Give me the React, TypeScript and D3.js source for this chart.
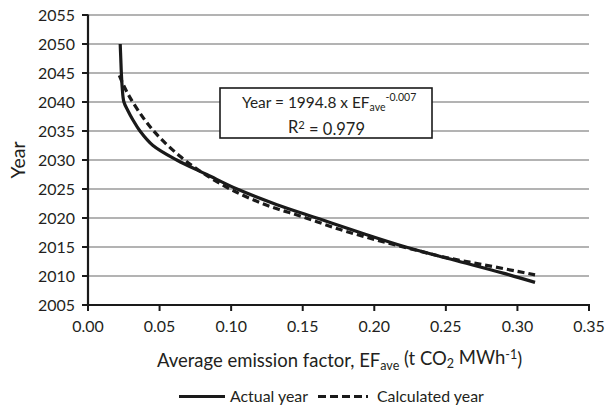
import React, { useMemo } from "react";
import * as d3 from "d3";

// Actual year reached for each average emission factor (t CO2 / MWh)
const actualEF = [0.0225, 0.0229, 0.0233, 0.0239, 0.0251, 0.0279, 0.0314, 0.0363, 0.0454, 0.062, 0.083, 0.105, 0.132, 0.161, 0.19, 0.222, 0.255, 0.29, 0.3123];
const actualYear = [2050.0, 2047.5, 2045.0, 2042.5, 2040.0, 2038.5, 2036.9, 2035.0, 2032.5, 2030.0, 2027.5, 2024.9, 2022.3, 2019.9, 2017.5, 2015.0, 2012.8, 2010.5, 2008.9];

// Year given by the fitted power curve
const calcEF = [0.0219, 0.025, 0.03, 0.04, 0.05, 0.065, 0.08, 0.1, 0.125, 0.15, 0.175, 0.2, 0.225, 0.25, 0.275, 0.3, 0.3123];
const calcYear = [2044.6, 2042.8, 2040.5, 2036.8, 2033.9, 2030.5, 2027.8, 2024.9, 2022.2, 2020.2, 2018.1, 2016.3, 2014.7, 2013.2, 2012.0, 2010.8, 2010.2];

const xTicks = [0, 0.05, 0.1, 0.15, 0.2, 0.25, 0.3, 0.35];
const yTicks = [2005, 2010, 2015, 2020, 2025, 2030, 2035, 2040, 2045, 2050, 2055];

const W = 606;
const H = 410;
const margin = { left: 88, right: 17, top: 15, bottom: 105 };
const FAMILY = "Lato";
const FONT = "Lato, 'Open Sans', sans-serif";
const TEXT = "#231f20";
const SUB = 0.68; // relative size of sub/superscripts

// Width of a string in em units for the chart font
function emWidth(ctx: CanvasRenderingContext2D | null, s: string) {
  if (!ctx) return s.length * 0.5;
  return ctx.measureText(s).width / 100;
}

export default function App() {
  // font sizes chosen so that each label spans the width it should occupy
  const sizes = useMemo(() => {
    const ctx = document.createElement("canvas").getContext("2d");
    if (ctx) ctx.font = `100px ${FAMILY}`;
    const fit = (main: string, subs: string, width: number) =>
      width / (emWidth(ctx, main) + SUB * emWidth(ctx, subs));
    return {
      tick: fit("2055", "", 37),
      yTitle: fit("Year", "", 37),
      xTitle: fit("Average emission factor, EF (t CO MWh)", "ave2-1", 365),
      legend: (fit("Actual year", "", 78) + fit("Calculated year", "", 108)) / 2,
      eq: fit("Year = 1994.8 x EF", "", 128),
      r2: fit("R = 0.979", "2", 77),
    };
  }, []);

  const x = d3.scaleLinear().domain([0, 0.35]).range([margin.left, W - margin.right]);
  const y = d3.scaleLinear().domain([2005, 2055]).range([H - margin.bottom, margin.top]);

  const line = d3
    .line<[number, number]>()
    .x((d) => x(d[0]))
    .y((d) => y(d[1]))
    .curve(d3.curveCatmullRom.alpha(0.5));

  const actualPts = actualEF.map((e, i) => [e, actualYear[i]] as [number, number]);
  const calcPts = calcEF.map((e, i) => [e, calcYear[i]] as [number, number]);

  const x0 = x(0);
  const x1 = x(0.35);
  const yBottom = y(2005);
  const yTop = y(2055);

  return (
    <svg width={W} height={H} style={{ position: "absolute", left: 0, top: 0, background: "#fff" }} fontFamily={FONT}>
      {/* horizontal gridlines */}
      {yTicks.slice(1).map((t) => (
        <line key={"g" + t} x1={x0} x2={x1} y1={y(t)} y2={y(t)} stroke="#9a9a9a" strokeWidth={1.6} />
      ))}

      {/* y axis */}
      <line x1={x0} x2={x0} y1={yTop - 0.5} y2={yBottom + 1} stroke="#1a1a1a" strokeWidth={2.2} />
      {yTicks.map((t) => (
        <g key={"y" + t}>
          <line x1={x0 - 6} x2={x0} y1={y(t)} y2={y(t)} stroke="#1a1a1a" strokeWidth={2} />
          <text x={x0 - 13} y={y(t)} dy="0.36em" textAnchor="end" fontSize={sizes.tick} fill={TEXT}>
            {t}
          </text>
        </g>
      ))}

      {/* x axis */}
      <line x1={x0 - 1} x2={x1 + 1} y1={yBottom} y2={yBottom} stroke="#1a1a1a" strokeWidth={2.2} />
      {xTicks.map((t) => (
        <g key={"x" + t}>
          <line x1={x(t)} x2={x(t)} y1={yBottom} y2={yBottom + 6} stroke="#1a1a1a" strokeWidth={2} />
          <text x={x(t)} y={yBottom + 27} textAnchor="middle" fontSize={sizes.tick} fill={TEXT}>
            {t.toFixed(2)}
          </text>
        </g>
      ))}

      {/* axis titles */}
      <text transform={`translate(25,${(yTop + yBottom) / 2}) rotate(-90)`} textAnchor="middle" fontSize={sizes.yTitle} fill={TEXT}>
        Year
      </text>
      <text x={157} y={366.5} fontSize={sizes.xTitle} fill={TEXT}>
        Average emission factor, EF
        <tspan fontSize={`${SUB}em`} dy="0.25em">ave</tspan>
        <tspan dy="-0.25em"> (t CO</tspan>
        <tspan fontSize={`${SUB}em`} dy="0.25em">2</tspan>
        <tspan dy="-0.25em"> MWh</tspan>
        <tspan fontSize={`${SUB}em`} dy="-0.4em">-1</tspan>
        <tspan dy="0.4em">)</tspan>
      </text>

      {/* series */}
      <path d={line(actualPts) ?? ""} fill="none" stroke="#1a1a1a" strokeWidth={3.2} strokeLinejoin="round" />
      <path d={line(calcPts) ?? ""} fill="none" stroke="#1a1a1a" strokeWidth={3.2} strokeDasharray="7,4" />

      {/* fitted equation */}
      <rect x={220} y={88} width={212} height={50} fill="#fff" stroke="#1a1a1a" strokeWidth={1.6} />
      <text x={242} y={108.3} fontSize={sizes.eq} fill={TEXT}>
        Year = 1994.8 x EF
        <tspan fontSize={`${SUB}em`} dy="0.25em">ave</tspan>
        <tspan fontSize={`${SUB}em`} dy="-0.95em">-0.007</tspan>
      </text>
      <text x={288} y={133} fontSize={sizes.r2} fill={TEXT}>
        R<tspan fontSize={`${SUB}em`} dy="-0.4em">2</tspan>
        <tspan dy="0.4em"> = 0.979</tspan>
      </text>

      {/* legend */}
      <line x1={179} x2={225} y1={396.5} y2={396.5} stroke="#1a1a1a" strokeWidth={3.2} />
      <text x={230} y={402} fontSize={sizes.legend} fill={TEXT}>Actual year</text>
      <line x1={318} x2={368} y1={396.5} y2={396.5} stroke="#1a1a1a" strokeWidth={3.2} strokeDasharray="8,4" />
      <text x={377} y={402} fontSize={sizes.legend} fill={TEXT}>Calculated year</text>
    </svg>
  );
}
